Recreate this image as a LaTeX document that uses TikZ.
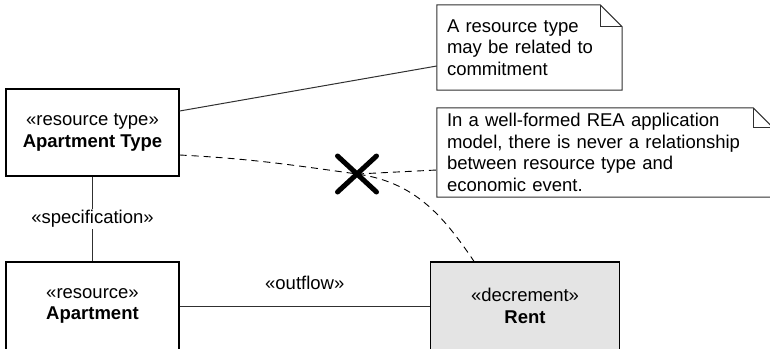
\documentclass[tikz,border=0pt]{standalone}
\usepackage{fontspec}
\setmainfont{Liberation Sans}
\usetikzlibrary{shapes.misc}
\definecolor{rentgray}{HTML}{E4E4E4}
\definecolor{linegray}{HTML}{303030}
\begin{document}
\begin{tikzpicture}[x=1pt,y=-1pt,
  every node/.style={font=\fontsize{18.5}{21.7}\selectfont},
  box/.style={draw=black, line width=1.3pt, inner sep=0pt, align=center},
  notebox/.style={inner xsep=10pt, inner ysep=0pt, align=left},
  noteline/.style={draw=linegray, line width=1pt, line join=miter},
  conn/.style={draw=linegray, line width=1pt},
  dashconn/.style={draw=black, line width=0.9pt, dash pattern=on 7pt off 5pt},
  lbl/.style={fill=white, inner sep=1pt},
  xmark/.style={cross out, draw=black, line width=5pt, line cap=round, minimum width=34pt, minimum height=31pt, inner sep=0pt}]
\useasboundingbox (0,0) rectangle (770,348);

% class boxes
\node[box, minimum width=173pt, minimum height=87pt] (at) at (92.5,132.5) {«resource type»\\\textbf{Apartment Type}};
\node[box, minimum width=173pt, minimum height=88pt] (ap) at (92.5,306) {«resource»\\\textbf{Apartment}};
\node[box, fill=rentgray, minimum width=189pt, minimum height=88pt] (rent) at (525,306) {«decrement»\\\textbf{Rent}};

% notes
\node[notebox, text width=165pt, minimum height=85pt] (n1) at (529.5,47.5) {A resource type\\may be related to\\commitment};
\draw[noteline] (n1.north west) -- ([xshift=-22pt]n1.north east) -- ([yshift=-22pt]n1.north east) -- (n1.south east) -- (n1.south west) -- cycle;
\draw[noteline] ([xshift=-22pt]n1.north east) |- ([yshift=-22pt]n1.north east);

\node[notebox, text width=316pt, minimum height=89pt] (n2) at (605,152.5) {In a well-formed REA application\\model, there is never a relationship\\between resource type and\\economic event.};
\draw[noteline] (n2.north west) -- ([xshift=-20pt]n2.north east) -- ([yshift=-20pt]n2.north east) -- (n2.south east) -- (n2.south west) -- cycle;
\draw[noteline] ([xshift=-20pt]n2.north east) |- ([yshift=-20pt]n2.north east);

% cross mark
\node[xmark] (xm) at (357,174) {};

% connectors
\draw[conn] (at.south) -- node[lbl] {«specification»} (ap.north);
\draw[conn] (ap.east) -- node[yshift=23pt] {«outflow»} (rent.west);
\draw[conn] ([yshift=21.5pt]at.east) -- ([yshift=-18.5pt]n1.west);
\draw[dashconn] ([yshift=-22.5pt]at.east) to[out=-3,in=172] (xm.center) to[out=-8,in=124] ([xshift=-51pt]rent.north);
\draw[dashconn] (xm.center) -- ([yshift=-17.5pt]n2.west);
\end{tikzpicture}
\end{document}
